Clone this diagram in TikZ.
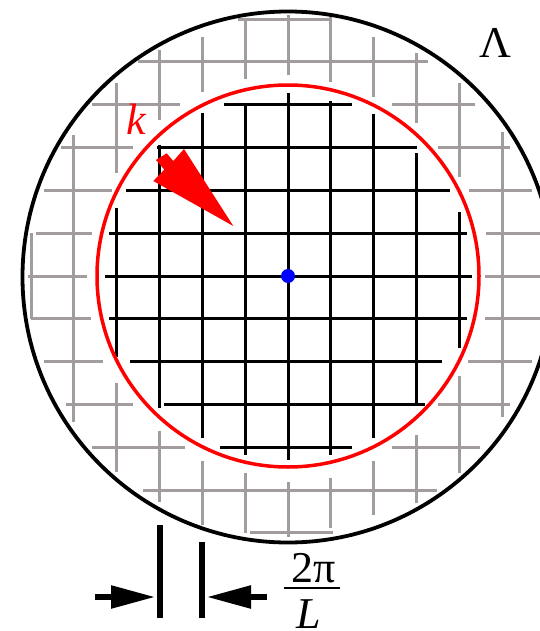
\documentclass[tikz,border=0pt]{standalone}
\usepackage{fontspec}
\setmainfont{Liberation Serif}
\usetikzlibrary{arrows.meta}
\definecolor{gridgray}{RGB}{162,156,156}
\begin{document}
\begin{tikzpicture}[x=1pt,y=-1pt,
  graygrid/.style={draw=gridgray,line width=3pt},
  blackgrid/.style={draw=black,line width=3pt},
  bigcircle/.style={draw=black,line width=3.8pt},
  kcircle/.style={draw=red,line width=3.5pt},
  lbl/.style={inner sep=0pt,anchor=base,font=\fontsize{44}{50}\selectfont},
  bar/.style={draw=black,line width=5.5pt},
  dimarrow/.style={draw=black,line width=5.5pt,-{Triangle[length=44pt,width=22pt]}},
  fracbar/.style={draw=black,line width=2.5pt}]
\useasboundingbox (0,0) rectangle (540,631);
\fill[white] (0,0) rectangle (540,631);
% gray lattice (outer part)
\foreach \k/\a/\b in {-6/238/331,-5/138/428,-4/92/180,-4/392/475,-3/61/133,-3/438/510,
  -2/44/112,-2/469/532,-1/36/92,-1/486/545,0/28/87,0/485/545,1/31/91,1/485/545,
  2/44/103,2/468/532,3/66/133,3/438/510,4/92/185,4/392/480,5/143/437,6/250/333}
  \draw[graygrid] (\a,{276+42.83*(\k)}) -- (\b,{276+42.83*(\k)});
\foreach \j/\a/\b in {-6/233/319,-5/135/422,-4/83/173,-4/383/472,-3/50/120,-3/431/502,
  -2/37/92,-2/461/525,-1/19/79,-1/473/533,0/15/75,0/482/537,1/15/82,1/478/528,
  2/37/97,2/461/515,3/53/123,3/435/503,4/83/177,4/376/473,5/132/417}
  \draw[graygrid] ({288+42.83*(\j)},\a) -- ({288+42.83*(\j)},\b);
% black lattice (inside k)
\foreach \k/\a/\b in {-4/224/352,-3/157/417,-2/126/450,-1/109/467,0/105/472,
  1/109/467,2/130/442,3/164/425,4/220/352}
  \draw[blackgrid] (\a,{276+42.83*(\k)}) -- (\b,{276+42.83*(\k)});
\foreach \j/\a/\b in {-4/208/357,-3/145/408,-2/113/438,-1/105/455,0/93/460,
  1/101/455,2/114/438,3/153/405,4/212/348}
  \draw[blackgrid] ({288+42.83*(\j)},\a) -- ({288+42.83*(\j)},\b);
% circles
\draw[kcircle] (288,276) circle[radius=191];
\draw[bigcircle] (288,277) circle[radius=265.5];
\fill[blue] (288,276) circle[radius=7];
% red arrow
\fill[red] (156,160) -- (166.7,153.3) -- (173.3,161) -- (184,149) -- (233.3,226)
  -- (153.3,181) -- (164.3,169.6) -- cycle;
% labels
\node[lbl,text=red] (k) at (136.5,135) {\itshape k};
\node[lbl] (Lam) at (495,58) {Λ};
\node[lbl] (num) at (313.5,582) {2π};
\node[lbl] (den) at (309,628) {\itshape L};
\coordinate (fb0) at (284,588);
\coordinate (fb1) at (340,588);
\draw[fracbar] (fb0) -- (fb1);
% spacing marker
\coordinate (b1t) at (160,525);
\coordinate (b1b) at (160,618);
\coordinate (b2t) at (202,542);
\coordinate (b2b) at (202,618);
\draw[bar] (b1t) -- (b1b);
\draw[bar] (b2t) -- (b2b);
\coordinate (la0) at (95,597);
\coordinate (la1) at (155,597);
\coordinate (ra0) at (267,597);
\coordinate (ra1) at (207,597);
\draw[dimarrow] (la0) -- (la1);
\draw[dimarrow] (ra0) -- (ra1);
\end{tikzpicture}
\end{document}
